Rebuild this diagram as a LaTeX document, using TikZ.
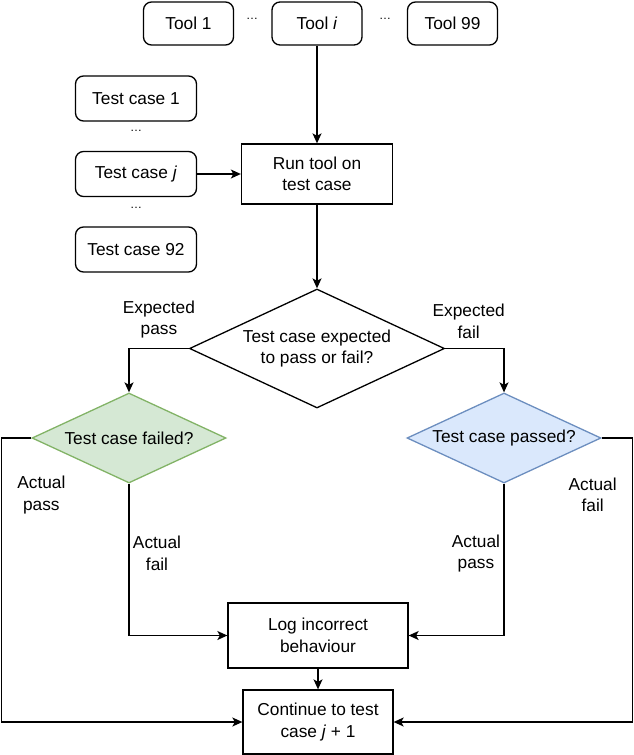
\documentclass[tikz,border=0pt]{standalone}
\usepackage{fontspec}
\setmainfont{Liberation Sans}
\usepackage{xcolor}
\usetikzlibrary{positioning, arrows.meta, shapes.geometric}

\definecolor{passfill}{HTML}{D5E8D4}
\definecolor{passline}{HTML}{82B366}
\definecolor{failfill}{HTML}{DAE8FC}
\definecolor{failline}{HTML}{6C8EBF}

\begin{document}
\begin{tikzpicture}[
  x=1pt, y=-1pt,
  font=\fontsize{17.3}{21.5}\selectfont,
  item/.style={draw, rounded corners=8pt, line width=1.3pt, minimum width=90pt,
              minimum height=43pt, inner sep=0pt},
  casebox/.style={item, minimum width=121pt, minimum height=45pt},
  stepbox/.style={draw, line width=1.3pt, align=center, inner sep=0pt},
  decision/.style={draw, diamond, line width=1.3pt, align=center, inner sep=0pt},
  arr/.style={-{Stealth[length=10pt, width=9pt, inset=2.5pt]}, line width=1.3pt},
  note/.style={align=center},
  dots/.style={inner sep=0pt, font=\fontsize{12}{12}\selectfont}
]
\useasboundingbox (0,0) rectangle (634,755);

  % Tools
  \node[item] (tool1)  at (188.5, 23.5) {Tool 1};
  \node[item] (tooli)  at (317, 23.5)   {Tool \textit{i}};
  \node[item] (tool99) at (452.5, 23.5) {Tool 99};
  \node[dots] (tdots1) at (252, 19) {\dots};
  \node[dots] (tdots2) at (385, 19) {\dots};

  % Test cases
  \node[casebox] (tc1)  at (136, 98.5)  {Test case 1};
  \node[casebox] (tcj)  at (136, 174)   {Test case \textit{j}};
  \node[casebox] (tc92) at (136, 249.5) {Test case 92};
  \node[dots] (cdots1) at (136, 131) {\dots};
  \node[dots] (cdots2) at (136, 208) {\dots};

  % Steps
  \node[stepbox, minimum width=151pt, minimum height=60pt] (run) at (317, 174)
    {Run tool on\\test case};
  \node[decision, aspect=2.14, minimum width=255pt, minimum height=119pt] (expect)
    at (317, 348.5) {Test case expected\\to pass or fail?};
  \node[decision, aspect=2.15, fill=passfill, draw=passline, minimum width=194pt,
        minimum height=90pt] (failed) at (129, 438) {Test case failed?};
  \node[decision, aspect=2.15, fill=failfill, draw=failline, minimum width=194pt,
        minimum height=90pt] (passed) at (504, 438) {Test case passed?};
  \node[stepbox, minimum width=180pt, minimum height=65pt] (log) at (318, 635.5)
    {Log incorrect\\behaviour};
  \node[stepbox, minimum width=150pt, minimum height=64pt] (cont) at (318, 722)
    {Continue to test\\case \textit{j} + 1};

  % Arrows
  \draw[arr] (tooli) -- (run);
  \draw[arr] (tcj) -- (run);
  \draw[arr] (run) -- (expect);
  \draw[arr] (expect.west) -| (failed.north)
    node[pos=0.25, above=6pt, note] {Expected\\pass};
  \draw[arr] (expect.east) -| (passed.north)
    node[pos=0.2, above=6pt, note] {Expected\\fail};
  \draw[arr] (failed.west) -- ++(-30,0) |- (cont.west)
    node[pos=0.1, right=12pt, note] {Actual\\pass};
  \draw[arr] (failed.south) |- (log.west)
    node[pos=0.23, right, note] {Actual\\fail};
  \draw[arr] (passed.south) |- (log.east)
    node[pos=0.23, left, note] {Actual\\pass};
  \draw[arr] (passed.east) -- ++(31,0) |- (cont.east)
    node[pos=0.1, left=12pt, note] {Actual\\fail};
  \draw[arr] (log) -- (cont);

\end{tikzpicture}
\end{document}
